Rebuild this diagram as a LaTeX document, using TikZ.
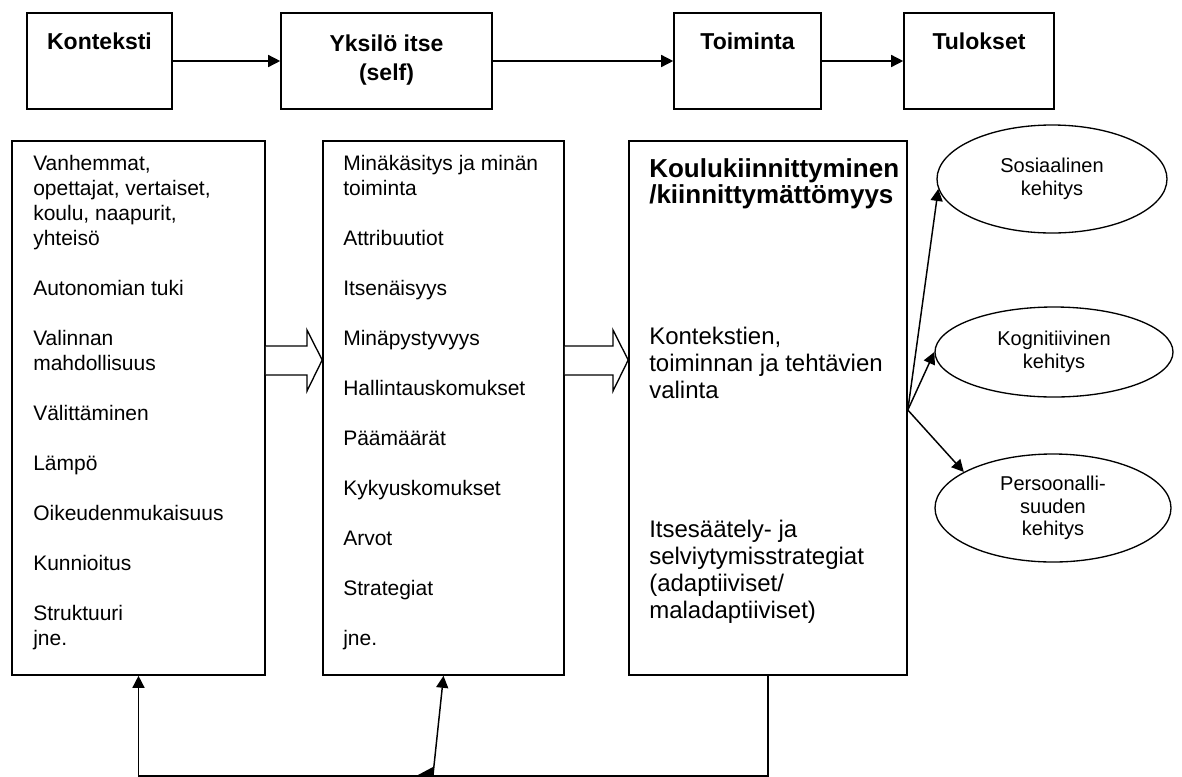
\documentclass[tikz,border=0pt]{standalone}
\usepackage{fontspec}
\setmainfont{Liberation Sans}
\usetikzlibrary{arrows.meta,shapes.geometric,positioning}

\tikzset{
  box/.style={draw,line width=1.2pt,inner sep=0pt},
  oval/.style={draw,ellipse,line width=1pt,inner sep=0pt,align=center,font=\fontsize{15}{17}\selectfont},
  head/.style={anchor=base,align=center,inner sep=0pt,font=\bfseries\fontsize{17.25}{21.75}\selectfont},
  items/.style={anchor=base west,align=left,inner sep=0pt,font=\fontsize{15.75}{18.75}\selectfont},
  bigitems/.style={anchor=base west,align=left,inner sep=0pt,font=\fontsize{18}{20.25}\selectfont},
  arr/.style={line width=1.1pt,-{Triangle[length=9pt,width=9pt]}},
  fat/.style={draw,fill=white,line width=1pt,line join=miter}
}

\begin{document}
\begin{tikzpicture}[x=0.75pt,y=-0.75pt]
\useasboundingbox (0,0) rectangle (1182,776);

% top row
\node[box,minimum width=108.75pt,minimum height=72pt] (kon) at (99.5,61) {};
\node[box,minimum width=158.25pt,minimum height=72pt] (yks) at (386.5,61) {};
\node[box,minimum width=110.25pt,minimum height=72pt] (toi) at (747.5,61) {};
\node[box,minimum width=112.5pt,minimum height=72pt] (tul) at (979,61) {};
\node[head] (konlbl) at (99.5,49) {Konteksti};
\node[head] (ykslbl) at (386.5,80) {Yksilö itse\\(self)};
\node[head] (toilbl) at (747.5,49) {Toiminta};
\node[head] (tullbl) at (979,49) {Tulokset};
\draw[arr] (kon) -- (yks);
\draw[arr] (yks) -- (toi);
\draw[arr] (toi) -- (tul);

% lower boxes (text nodes sit on their last baseline)
\node[box,minimum width=189.75pt,minimum height=400.5pt] (konlist) at (138.5,408) {};
\node[box,minimum width=180.75pt,minimum height=400.5pt] (ykslist) at (443.5,408) {};
\node[box,minimum width=208.5pt,minimum height=400.5pt] (toilist) at (768,408) {};

\node[items] (konitems) at (33,645) {Vanhemmat,\\opettajat, vertaiset,\\koulu, naapurit,\\yhteisö\\[18.75pt]
  Autonomian tuki\\[18.75pt]Valinnan\\mahdollisuus\\[18.75pt]Välittäminen\\[18.75pt]Lämpö\\[18.75pt]
  Oikeudenmukaisuus\\[18.75pt]Kunnioitus\\[18.75pt]Struktuuri\\jne.};
\node[items] (yksitems) at (343,645) {Minäkäsitys ja minän\\toiminta\\[18.75pt]Attribuutiot\\[18.75pt]
  Itsenäisyys\\[18.75pt]Minäpystyvyys\\[18.75pt]Hallintauskomukset\\[18.75pt]Päämäärät\\[18.75pt]
  Kykyuskomukset\\[18.75pt]Arvot\\[18.75pt]Strategiat\\[18.75pt]jne.};
\node[anchor=base west,align=left,inner sep=0pt,font=\bfseries\fontsize{19.5}{19.5}\selectfont] (toihead) at (649,203) {Koulukiinnittyminen\\/kiinnittymättömyys};
\node[bigitems] (toiitems) at (649,398) {Kontekstien,\\toiminnan ja tehtävien\\valinta};
\node[bigitems] (toiitems2) at (649,618) {Itsesäätely- ja\\selviytymisstrategiat\\(adaptiiviset/\\maladaptiiviset)};

% hollow arrows between the lists
\draw[fat] (konlist.east |- 0,346) -- (307,346) -- (307,330) -- (ykslist.west |- 0,360) -- (307,391) -- (307,375) -- (konlist.east |- 0,375);
\draw[fat] (ykslist.east |- 0,346) -- (613,346) -- (613,330) -- (toilist.west |- 0,360) -- (613,391) -- (613,375) -- (ykslist.east |- 0,375);

% outcomes
\node[oval,minimum width=172.5pt,minimum height=81pt] (sos) at (1052,179) {Sosiaalinen\\kehitys};
\node[oval,minimum width=178.5pt,minimum height=67.5pt] (kog) at (1054,352) {Kognitiivinen\\kehitys};
\node[oval,minimum width=177pt,minimum height=81pt] (per) at (1053,508) {Persoonalli-\\suuden\\kehitys};
\coordinate (fan) at (toilist.east |- 0,410);
\draw[arr] (fan) -- (sos.185);
\draw[arr] (fan) -- (kog.west);
\draw[arr] (fan) -- (per.158);

% feedback
\draw[arr] (toilist.south) -- ++(0,100) -| (konlist.south);
\coordinate (fbm) at (433,775);
\draw[arr] (fbm) -- (ykslist.south);
\fill (418,775) -- (433,767) -- (433,775) -- cycle;
\end{tikzpicture}
\end{document}
